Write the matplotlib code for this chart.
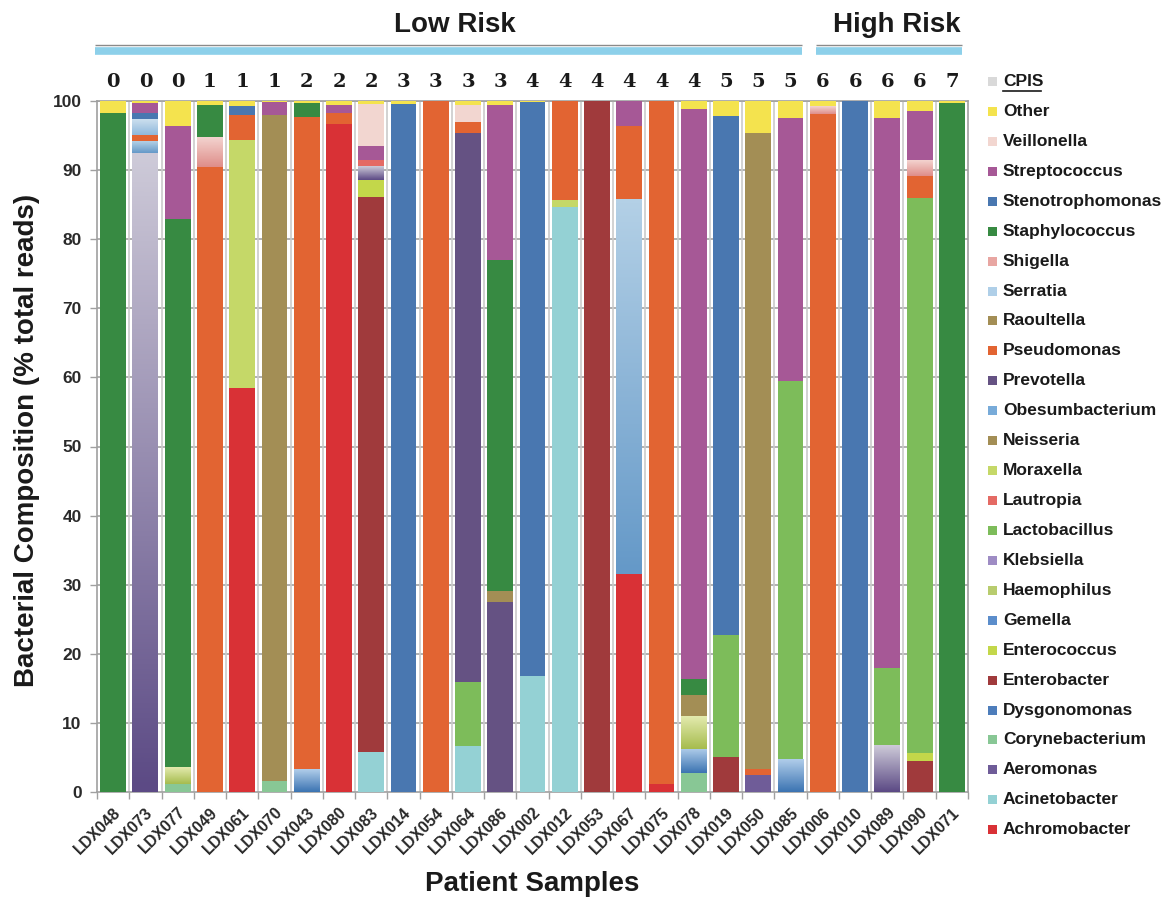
import numpy as np
import matplotlib
matplotlib.use("Agg")
import matplotlib.pyplot as plt
from matplotlib.colors import LinearSegmentedColormap
from matplotlib.patches import Rectangle
from matplotlib.lines import Line2D
import matplotlib.transforms as mtransforms

plt.rcParams['font.family'] = ['Liberation Sans', 'DejaVu Sans']

# ---------------- data ----------------
samples = ["LDX048", "LDX073", "LDX077", "LDX049", "LDX061", "LDX070", "LDX043", "LDX080", "LDX083",
           "LDX014", "LDX054", "LDX064", "LDX086", "LDX002", "LDX012", "LDX053", "LDX067", "LDX075",
           "LDX078", "LDX019", "LDX050", "LDX085", "LDX006", "LDX010", "LDX089", "LDX090", "LDX071"]
cpis = [0, 0, 0, 1, 1, 1, 2, 2, 2, 3, 3, 3, 3, 4, 4, 4, 4, 4, 4, 5, 5, 5, 6, 6, 6, 6, 7]
risk_groups = ["Low Risk", "High Risk"]
n_low = 22

Achromobacter = [0, 0, 0, 0, 58.5, 0, 0, 96.7, 0,  0, 0, 0, 0, 0, 0, 0, 31.5, 1.1,  0, 0, 0, 0, 0, 0, 0, 0, 0]
Acinetobacter = [0, 0, 0, 0, 0, 0, 0, 0, 5.8,  0, 0, 6.7, 0, 16.8, 84.6, 0, 0, 0,  0, 0, 0, 0, 0, 0, 0, 0, 0]
Aeromonas = [0, 0, 0, 0, 0, 0, 0, 0, 0,  0, 0, 0, 0, 0, 0, 0, 0, 0,  0, 0, 2.4, 0, 0, 0, 0, 0, 0]
Corynebacterium = [0, 0, 1.1, 0, 0, 1.6, 0, 0, 0,  0, 0, 0, 0, 0, 0, 0, 0, 0,  2.7, 0, 0, 0, 0, 0, 0, 0, 0]
Dysgonomonas = [0, 0, 0, 0, 0, 0, 0, 0, 0,  0, 0, 0, 0, 0, 0, 0, 0, 0,  0, 0, 0, 0, 0, 0, 0, 0, 0]
Enterobacter = [0, 0, 0, 0, 0, 0, 0, 0, 80.3,  0, 0, 0, 0, 0, 0, 100, 0, 0,  0, 5.0, 0, 0, 0, 0, 0, 4.5, 0]
Enterococcus = [0, 0, 0, 0, 0, 0, 0, 0, 2.4,  0, 0, 0, 0, 0, 0, 0, 0, 0,  0, 0, 0, 0, 0, 0, 0, 1.1, 0]
Gemella = [0, 0, 0, 0, 0, 0, 3.3, 0, 0,  0, 0, 0, 0, 0, 0, 0, 0, 0,  3.5, 0, 0, 4.7, 0, 0, 0, 0, 0]
Haemophilus = [0, 0, 2.4, 0, 0, 0, 0, 0, 0,  0, 0, 0, 0, 0, 0, 0, 0, 0,  4.7, 0, 0, 0, 0, 0, 0, 0, 0]
Klebsiella = [0, 92.5, 0, 0, 0, 0, 0, 0, 1.9,  0, 0, 0, 0, 0, 0, 0, 0, 0,  0, 0, 0, 0, 0, 0, 6.7, 0, 0]
Lactobacillus = [0, 0, 0, 0, 0, 0, 0, 0, 0,  0, 0, 9.2, 0, 0, 0, 0, 0, 0,  0, 17.7, 0, 54.8, 0, 0, 11.3, 80.3, 0]
Lautropia = [0, 0, 0, 0, 0, 0, 0, 0, 1.1,  0, 0, 0, 0, 0, 0, 0, 0, 0,  0, 0, 0, 0, 0, 0, 0, 0, 0]
Moraxella = [0, 0, 0, 0, 35.9, 0, 0, 0, 0,  0, 0, 0, 0, 0, 1.1, 0, 0, 0,  0, 0, 0, 0, 0, 0, 0, 0, 0]
Neisseria = [0, 0, 0, 0, 0, 0, 0, 0, 0,  0, 0, 0, 0, 0, 0, 0, 0, 0,  3.1, 0, 0, 0, 0, 0, 0, 0, 0]
Obesumbacterium = [0, 1.6, 0, 0, 0, 0, 0, 0, 0,  0, 0, 0, 0, 0, 0, 0, 54.2, 0,  0, 0, 0, 0, 0, 0, 0, 0, 0]
Prevotella = [0, 0, 0, 0, 0, 0, 0, 0, 0,  0, 0, 79.5, 27.5, 0, 0, 0, 0, 0,  0, 0, 0, 0, 0, 0, 0, 0, 0]
Pseudomonas = [0, 1.0, 0, 90.4, 3.6, 0, 94.4, 1.5, 0,  0, 100, 1.6, 0, 0, 14.3, 0, 10.7, 98.9,  0, 0, 0.9, 0, 98.1, 0, 0, 3.2, 0]
Raoultella = [0, 0, 0, 0, 0, 96.4, 0, 0, 0,  0, 0, 0, 1.6, 0, 0, 0, 0, 0,  0, 0, 92.1, 0, 0, 0, 0, 0, 0]
Serratia = [0, 2.2, 0, 0, 0, 0, 0, 0, 0,  0, 0, 0, 0, 0, 0, 0, 0, 0,  0, 0, 0, 0, 0, 0, 0, 0, 0]
Shigella = [0, 0, 0, 4.3, 0, 0, 0, 0, 0,  0, 0, 0, 0, 0, 0, 0, 0, 0,  0, 0, 0, 0, 1.1, 0, 0, 2.3, 0]
Staphylococcus = [98.3, 0, 79.4, 4.7, 0, 0, 2.0, 0, 0,  0, 0, 0, 47.9, 0, 0, 0, 0, 0,  2.3, 0, 0, 0, 0, 0, 0, 0, 99.7]
Stenotrophomonas = [0, 0.9, 0, 0, 1.3, 0, 0, 0, 0,  99.6, 0, 0, 0, 83.0, 0, 0, 0, 0,  0, 75.2, 0, 0, 0, 100, 0, 0, 0]
Streptococcus = [0, 1.5, 13.5, 0, 0, 1.8, 0, 1.2, 2.0,  0, 0, 0, 22.4, 0, 0, 0, 3.6, 0,  82.5, 0, 0, 38.1, 0, 0, 79.6, 7.2, 0]
Veillonella = [0, 0, 0, 0, 0, 0, 0, 0, 6.0,  0, 0, 2.4, 0, 0, 0, 0, 0, 0,  0, 0, 0, 0, 0, 0, 0, 0, 0]
Other = [1.7, 0.3, 3.6, 0.6, 0.7, 0.2, 0.3, 0.6, 0.5,  0.4, 0, 0.6, 0.6, 0.2, 0, 0, 0, 0,  1.2, 2.1, 4.6, 2.4, 0.8, 0, 2.4, 1.4, 0.3]

# stacking order: bottom -> top
series = [
    ("Achromobacter", Achromobacter, "#D93136"),
    ("Acinetobacter", Acinetobacter, "#94D1D4"),
    ("Aeromonas", Aeromonas, "#6F5C98"),
    ("Corynebacterium", Corynebacterium, "#88C795"),
    ("Dysgonomonas", Dysgonomonas, "#4D7DBB"),
    ("Enterobacter", Enterobacter, "#A03A3C"),
    ("Enterococcus", Enterococcus, "#C3D74A"),
    ("Gemella", Gemella, "#5B8DCB"),
    ("Haemophilus", Haemophilus, "#B8CC6E"),
    ("Klebsiella", Klebsiella, "#9E8CC4"),
    ("Lactobacillus", Lactobacillus, "#7DBC5A"),
    ("Lautropia", Lautropia, "#E46A64"),
    ("Moraxella", Moraxella, "#C5D868"),
    ("Neisseria", Neisseria, "#A38E55"),
    ("Obesumbacterium", Obesumbacterium, "#78ABD9"),
    ("Prevotella", Prevotella, "#655283"),
    ("Pseudomonas", Pseudomonas, "#E26432"),
    ("Raoultella", Raoultella, "#A38E55"),
    ("Serratia", Serratia, "#AFCFE8"),
    ("Shigella", Shigella, "#E8A6A2"),
    ("Staphylococcus", Staphylococcus, "#378A42"),
    ("Stenotrophomonas", Stenotrophomonas, "#4977B0"),
    ("Streptococcus", Streptococcus, "#A65896"),
    ("Veillonella", Veillonella, "#F2D6D0"),
    ("Other", Other, "#F4E34E"),
]

# gradient fills (bottom colour, top colour)
gradients = {
    "Klebsiella": ("#5C4A85", "#CDCAD8"),
    "Shigella": ("#DF8E8A", "#F3D3CF"),
    "Haemophilus": ("#A6BC4E", "#E3EAAE"),
    "Gemella": ("#3C74B2", "#B0CDEA"),
    "Obesumbacterium": ("#6599C8", "#B3D0E6"),
    "Serratia": ("#8FB8DC", "#CCDFEE"),
}

# ---------------- figure ----------------
W, H = 1170, 906
fig = plt.figure(figsize=(W / 100, H / 100), dpi=100)
ax_l, ax_r, ax_t, ax_b = 97, 968, 101, 792
ax = fig.add_axes([ax_l / W, 1 - ax_b / H, (ax_r - ax_l) / W, (ax_b - ax_t) / H])

x = np.arange(len(samples))
n = len(samples)
bottom = np.zeros(n)
for name, vals, color in series:
    vals = np.array(vals, dtype=float)
    bars = ax.bar(x, vals, bottom=bottom, width=0.8, color=color, linewidth=0, zorder=3)
    if name in gradients:
        cmap = LinearSegmentedColormap.from_list(name, list(gradients[name]))
        for p, v in zip(bars, vals):
            if v > 0:
                x0, y0 = p.get_x(), p.get_y()
                w, h = p.get_width(), p.get_height()
                ax.imshow(np.linspace(0, 1, 64).reshape(-1, 1), cmap=cmap, origin='lower',
                          extent=(x0, x0 + w, y0, y0 + h), aspect='auto', zorder=3.5,
                          interpolation='bilinear')
    bottom += vals

ax.set_xlim(-0.5, n - 0.5)
ax.set_ylim(0, 100)

# grid & separators
for yv in range(10, 101, 10):
    ax.axhline(yv, color="#A3A3A3", lw=1.2, zorder=1)
for i in range(n - 1):
    ax.axvline(i + 0.5, color="#CBCBCB", lw=1.2, zorder=1)
for s in ax.spines.values():
    s.set_color("#A0A0A0")
    s.set_linewidth(1.2)

# ticks
ax.set_yticks(range(0, 101, 10))
ax.tick_params(axis='y', length=5, width=1, color="#A0A0A0", labelsize=12.5, labelcolor="#2a2a2a", pad=6)
for lab in ax.get_yticklabels():
    lab.set_fontweight('bold')
ax.set_xticks(x)
ax.set_xticklabels(samples, rotation=45, ha='right', rotation_mode='anchor',
                   fontsize=11.5, fontweight='bold', color="#2a2a2a")
ax.tick_params(axis='x', which='major', length=0, pad=9)
ax.set_xticks(np.arange(-0.5, n, 1.0), minor=True)
ax.tick_params(axis='x', which='minor', length=5, width=1, color="#A0A0A0")

# CPIS scores row
trans = mtransforms.blended_transform_factory(ax.transData, ax.transAxes)
ph = ax_b - ax_t
for xi, c in zip(x, cpis):
    ax.text(xi, 1 + 19 / ph, str(c), transform=trans, ha='center', va='center',
            fontsize=14, fontweight='bold', family=['DejaVu Serif'], color="#1a1a1a")

# risk group headers
y_grey = 1 + 56 / ph
y_band = 1 + 50.5 / ph
low_end = n_low - 0.66
high_start = n_low - 0.21
for (xa, xb) in [(-0.55, low_end), (high_start, n - 0.68)]:
    ax.add_line(Line2D([xa, xb], [y_band, y_band], transform=trans, color="#8DD0EA",
                       lw=5.5, solid_capstyle='butt', clip_on=False))
    ax.add_line(Line2D([xa, xb], [y_grey, y_grey], transform=trans, color="#8A8A8A",
                       lw=1.0, solid_capstyle='butt', clip_on=False))
ax.text(10.6, 1 + 76 / ph, risk_groups[0], transform=trans, ha='center', va='center',
        fontsize=20, fontweight='bold', color="#1a1a1a")
ax.text(24.3, 1 + 76 / ph, risk_groups[1], transform=trans, ha='center', va='center',
        fontsize=20, fontweight='bold', color="#1a1a1a")

# axis labels
fig.text(27 / W, 1 - 440 / H, "Bacterial Composition (% total reads)", rotation=90,
         ha='center', va='center', fontsize=20, fontweight='bold', color="#1a1a1a")
fig.text(532 / W, 1 - 884 / H, "Patient Samples", ha='center', va='center',
         fontsize=20, fontweight='bold', color="#1a1a1a")

# legend (top: CPIS, then series in reverse stacking order)
legend_items = [("CPIS", "#D9D9D9")] + [(nm, col) for nm, _, col in series[::-1]]
y0_px, dy_px = 81.5, 29.93
sq = 9
for k, (nm, col) in enumerate(legend_items):
    yc = y0_px + k * dy_px
    fig.patches.append(Rectangle((988 / W, 1 - (yc + sq / 2) / H), sq / W, sq / H,
                                 transform=fig.transFigure, facecolor=col, edgecolor='none'))
    t = fig.text(1003 / W, 1 - yc / H, nm, ha='left', va='center', fontsize=12.5,
                 fontweight='bold', color="#1a1a1a")
    if nm == "CPIS":
        fig.add_artist(Line2D([1003 / W, 1041 / W], [1 - (yc + 9) / H, 1 - (yc + 9) / H],
                              transform=fig.transFigure, color="#1a1a1a", lw=1.2))

fig.savefig("out.png", dpi=100)
